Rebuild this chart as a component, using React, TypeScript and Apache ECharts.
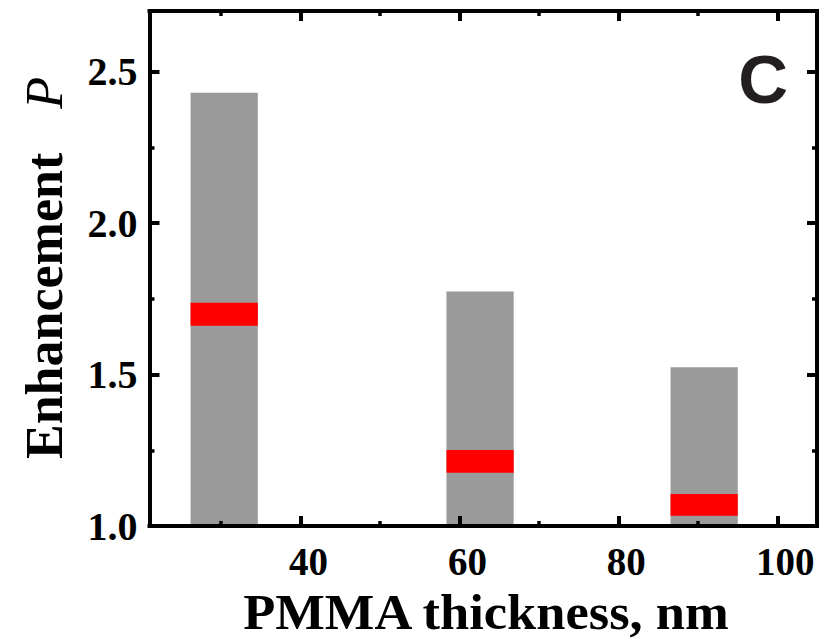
import React, { useEffect, useRef } from "react";
import * as echarts from "echarts";

// ---- data ----
const thickness = [30.4, 62.6, 90.8]; // PMMA thickness, nm (bar centres)
const enhancementTop = [2.43, 1.774, 1.524]; // top of grey bars
const redLow = [1.661, 1.176, 1.034]; // red band lower bound
const redHigh = [1.737, 1.251, 1.106]; // red band upper bound
const xMajorTicks = [40, 60, 80, 100];
const xMinorTicks = [30, 50, 70, 90];
const yMajorTicks = [1.0, 1.5, 2.0, 2.5];
const yMinorTicks = [1.25, 1.75, 2.25];

const X_MIN = 21;
const X_MAX = 105;
const Y_MIN = 1.0;
const Y_MAX = 2.7;
const BAR_HALF = 4.23; // half bar width in data units

const SERIF = '"Liberation Serif", "Times New Roman", serif';

export default function App() {
  const ref = useRef<HTMLDivElement>(null);

  useEffect(() => {
    document.body.style.margin = "0";
    if (!ref.current) return;
    const chart = echarts.init(ref.current, undefined, { renderer: "svg" });

    const greyData = thickness.map((t, i) => [t, Y_MIN, enhancementTop[i]]);
    const redData = thickness.map((t, i) => [t, redLow[i], redHigh[i]]);

    const rectItem = (color: string) => (params: any, api: any) => {
      const x = api.value(0);
      const lo = api.value(1);
      const hi = api.value(2);
      const p1 = api.coord([x - BAR_HALF, hi]);
      const p2 = api.coord([x + BAR_HALF, lo]);
      return {
        type: "rect",
        shape: { x: p1[0], y: p1[1], width: p2[0] - p1[0], height: p2[1] - p1[1] },
        style: { fill: color },
      };
    };

    const axisLineStyle = { show: true, onZero: false, lineStyle: { color: "#000", width: 4, cap: "square" } };
    const hidden = { show: false };

    const xBase = (position: "top" | "bottom") => ({
      type: "value",
      min: X_MIN,
      max: X_MAX,
      position,
      z: 10,
      splitLine: hidden,
    });
    const yBase = (position: "left" | "right") => ({
      type: "value",
      min: Y_MIN,
      max: Y_MAX,
      position,
      z: 10,
      splitLine: hidden,
    });

    const majorTick = (vals: number[]) => ({
      show: true,
      inside: true,
      length: 10,
      customValues: vals,
      lineStyle: { color: "#000", width: 4 },
    });
    const minorTick = (vals: number[]) => ({
      show: true,
      inside: true,
      length: 5,
      customValues: vals,
      lineStyle: { color: "#000", width: 3.5 },
    });

    const option: any = {
      animation: false,
      grid: {
        left: 149.5,
        right: 14,
        top: 11,
        bottom: 114,
        containLabel: false,
        outerBoundsMode: "none",
      },
      xAxis: [
        {
          ...xBase("bottom"),
          axisLine: axisLineStyle,
          axisTick: majorTick(xMajorTicks),
          axisLabel: {
            customValues: xMajorTicks,
            margin: 16,
            padding: [0, 0, 0, 16],
            fontFamily: SERIF,
            fontSize: 39,
            fontWeight: "bold",
            color: "#000",
          },
        },
        {
          ...xBase("bottom"),
          axisLine: hidden,
          axisTick: minorTick(xMinorTicks),
          axisLabel: hidden,
        },
        {
          ...xBase("top"),
          axisLine: axisLineStyle,
          axisTick: majorTick(xMajorTicks),
          axisLabel: hidden,
        },
        {
          ...xBase("top"),
          axisLine: hidden,
          axisTick: minorTick(xMinorTicks),
          axisLabel: hidden,
        },
      ],
      yAxis: [
        {
          ...yBase("left"),
          axisLine: axisLineStyle,
          axisTick: majorTick(yMajorTicks),
          axisLabel: {
            customValues: yMajorTicks,
            margin: 12,
            formatter: (v: number) => v.toFixed(1),
            fontFamily: SERIF,
            fontSize: 40,
            fontWeight: "bold",
            color: "#000",
          },
        },
        {
          ...yBase("left"),
          axisLine: hidden,
          axisTick: minorTick(yMinorTicks),
          axisLabel: hidden,
        },
        {
          ...yBase("right"),
          axisLine: axisLineStyle,
          axisTick: majorTick(yMajorTicks),
          axisLabel: hidden,
        },
        {
          ...yBase("right"),
          axisLine: hidden,
          axisTick: minorTick(yMinorTicks),
          axisLabel: hidden,
        },
      ],
      series: [
        {
          type: "custom",
          name: "range",
          xAxisIndex: 0,
          yAxisIndex: 0,
          z: 1,
          renderItem: rectItem("#9a9a9a"),
          data: greyData,
        },
        {
          type: "custom",
          name: "mean",
          xAxisIndex: 0,
          yAxisIndex: 0,
          z: 2,
          renderItem: rectItem("#ff0000"),
          data: redData,
        },
      ],
      graphic: [
        {
          type: "text",
          x: 486,
          y: 612,
          scaleX: 1.05,
          style: {
            text: "PMMA thickness, nm",
            fontFamily: SERIF,
            fontSize: 50,
            fontWeight: "bold",
            fill: "#000",
            align: "center",
            verticalAlign: "middle",
          },
        },
        {
          type: "text",
          x: 44,
          y: 268,
          rotation: Math.PI / 2,
          style: {
            text: "{b|Enhancement}{b|   }{i|P}",
            align: "center",
            verticalAlign: "middle",
            fill: "#000",
            rich: {
              b: { fontFamily: SERIF, fontSize: 52, fontWeight: "bold", fill: "#000" },
              i: {
                fontFamily: SERIF,
                fontSize: 52,
                fontWeight: "normal",
                fontStyle: "italic",
                fill: "#000",
                padding: [0, 0, 0, 5],
              },
            },
          },
        },
        {
          type: "text",
          x: 788,
          y: 79,
          style: {
            text: "C",
            fontFamily: '"Liberation Sans", Arial, sans-serif',
            fontSize: 69,
            fontWeight: "bold",
            fill: "#231f20",
            align: "right",
            verticalAlign: "middle",
          },
        },
      ],
    };

    chart.setOption(option);
    return () => {
      chart.dispose();
    };
  }, []);

  return <div ref={ref} style={{ width: 831, height: 640 }} />;
}
